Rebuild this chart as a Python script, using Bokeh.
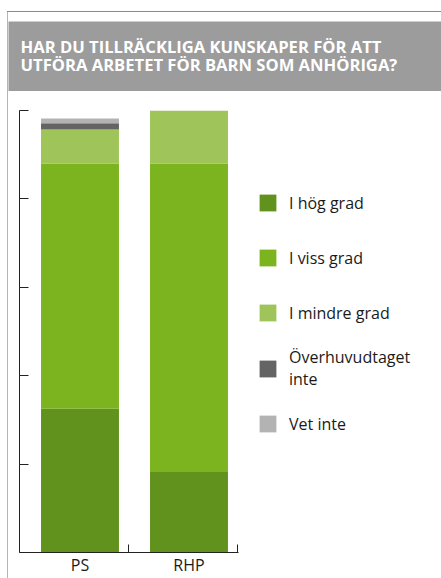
from bokeh.plotting import figure
from bokeh.models import Range1d, FixedTicker, Legend, LegendItem
from bokeh.embed import file_html
from bokeh.resources import INLINE

title_text = "HAR DU TILLRÄCKLIGA KUNSKAPER FÖR ATT\nUTFÖRA ARBETET FÖR BARN SOM ANHÖRIGA?"
categories = ["PS", "RHP"]
series_names = ["I hög grad", "I viss grad", "I mindre grad", "Överhuvudtaget\ninte", "Vet inte"]
hog = [32.5, 18.2]
viss = [55.5, 69.8]
mindre = [7.7, 12.0]
overhuvudtaget = [1.4, 0.0]
vet_inte = [1.1, 0.0]
y_ticks = [0, 20, 40, 60, 80, 100]

colors = ["#62921e", "#7bb41e", "#9ec45a", "#646464", "#b3b3b3"]
series = [hog, viss, mindre, overhuvudtaget, vet_inte]

unit = 109.0
frame_w = 422
xs = [i + 0.555 for i in range(len(categories))]

p = figure(width=441, height=578, output_backend="svg", toolbar_location=None,
           x_range=Range1d(0, frame_w / unit), y_range=Range1d(0, 100),
           min_border_left=19, min_border_right=0, min_border_bottom=0, min_border_top=12)
p.outline_line_color = None
p.grid.grid_line_color = None
p.background_fill_color = "white"
p.border_fill_alpha = 0
p.styles = {"background": "linear-gradient(#fff,#fff) 0 0/100% 11px no-repeat, "
                          "linear-gradient(#8a8a8a,#8a8a8a) 7px 11px/100% 1px no-repeat, "
                          "linear-gradient(to right, #fff 7px, #b5b5b5 7px, #b5b5b5 8px, #fff 8px)"}

p.title.text = title_text
p.title.text_font = "Open Sans"
p.title.text_font_size = "16.6px"
p.title.text_font_style = "bold"
p.title.text_color = "white"
p.title.text_line_height = 0.8
p.title.background_fill_color = "#9c9c9d"
p.title.align = "left"
p.title.offset = -11
p.title.padding = (12, 300, 13, 15)
p.title.standoff = 39

renderers = []
bottoms = [0.0] * len(categories)
for vals, col in zip(series, colors):
    tops = [b + v for b, v in zip(bottoms, vals)]
    r = p.vbar(x=xs, bottom=bottoms, top=tops, width=0.715, fill_color=col, line_color=None)
    renderers.append(r)
    bottoms = tops

xa = p.xaxis[0]
xa.ticker = FixedTicker(ticks=xs, minor_ticks=[1, 2])
xa.major_label_overrides = {x: c for x, c in zip(xs, categories)}
xa.bounds = (0, 2.01)
xa.major_tick_in = 0
xa.major_tick_out = 0
xa.minor_tick_in = 8
xa.minor_tick_out = 0
xa.axis_line_color = "#222222"
xa.minor_tick_line_color = "#222222"
xa.major_label_text_font = "Open Sans"
xa.major_label_text_font_size = "16px"
xa.major_label_text_color = "#1a1a1a"
xa.major_label_standoff = 1

ya = p.yaxis[0]
ya.ticker = FixedTicker(ticks=y_ticks, minor_ticks=[])
ya.bounds = (0, 100)
ya.major_tick_in = 9
ya.major_tick_out = 0
ya.axis_line_color = "#222222"
ya.major_tick_line_color = "#222222"
ya.major_label_text_font_size = "0px"
ya.major_label_standoff = 0

legend = Legend(items=[LegendItem(label=n, renderers=[r]) for n, r in zip(series_names, renderers)],
                location=(238, 107), padding=0, margin=0, spacing=12,
                glyph_width=21, glyph_height=21, label_height=43, label_standoff=11,
                label_text_font="Open Sans", label_text_font_size="16px",
                label_text_line_height=0.75,
                label_text_color="#1a1a1a", border_line_color=None, background_fill_alpha=0)
p.add_layout(legend, "center")

open("out.html", "w").write(file_html(p, INLINE))
